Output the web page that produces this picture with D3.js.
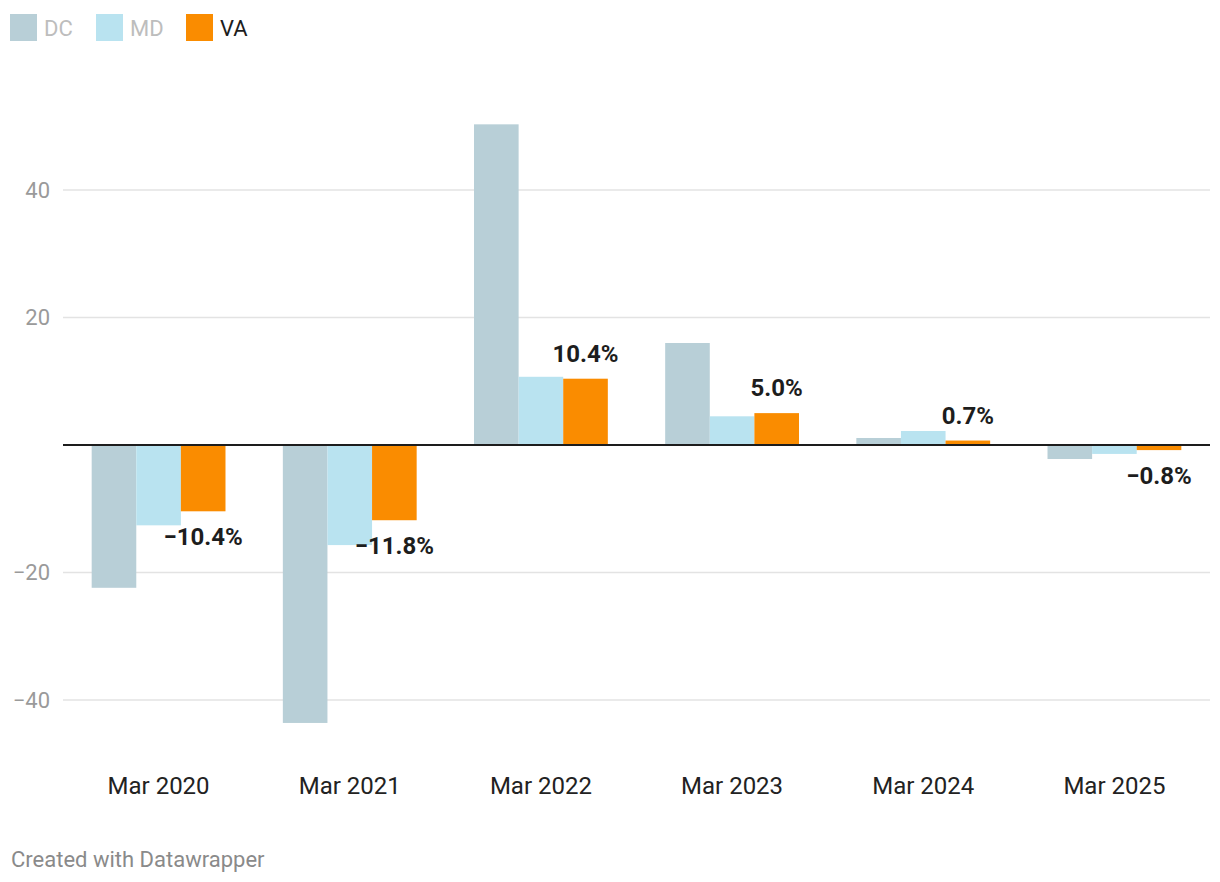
<!DOCTYPE html>
<html>
<head>
<meta charset="utf-8">
<script src="https://cdn.jsdelivr.net/npm/d3@7"></script>
<style>
  body { margin: 0; background: #fff; font-family: Roboto, sans-serif; }
</style>
</head>
<body>
<div id="chart"></div>
<script>
// Data
const periods = ["Mar 2020", "Mar 2021", "Mar 2022", "Mar 2023", "Mar 2024", "Mar 2025"];
const seriesNames = ["DC", "MD", "VA"];
const dcValues = [-22.4, -43.6, 50.3, 16.0, 1.1, -2.2];
const mdValues = [-12.6, -15.7, 10.7, 4.5, 2.2, -1.4];
const vaValues = [-10.4, -11.8, 10.4, 5.0, 0.7, -0.8];
const yTicks = [-40, -20, 20, 40];

const seriesValues = { DC: dcValues, MD: mdValues, VA: vaValues };
const colors = d3.scaleOrdinal()
  .domain(seriesNames)
  .range(["#b8cfd7", "#b9e3f0", "#fa8c00"]);

const width = 1220, height = 882;
const margins = {left: 63, right: 10};

const svg = d3.select("#chart")
  .append("svg")
  .attr("width", width)
  .attr("height", height);

/* Scales */
const x0 = d3.scaleBand()
  .domain(periods)
  .range([margins.left, width - margins.right])
  .paddingInner(0.3)
  .paddingOuter(0.15);

const x1 = d3.scaleBand()
  .domain(seriesNames)
  .range([0, x0.bandwidth()]);

const y = d3.scaleLinear()
  .domain([-40, 40])
  .range([700, 190]);

/* Gridlines and y labels */
const grid = svg.append("g");
grid.selectAll("line")
  .data(yTicks)
  .join("line")
    .attr("x1", margins.left)
    .attr("x2", width - margins.right)
    .attr("y1", d => y(d))
    .attr("y2", d => y(d))
    .style("stroke", "#e3e3e3")
    .style("stroke-width", 1.5);

grid.selectAll("text")
  .data(yTicks)
  .join("text")
    .attr("x", 50)
    .attr("y", d => y(d))
    .attr("dy", "0.35em")
    .style("text-anchor", "end")
    .style("font-size", "22px")
    .style("fill", "#9a9a9a")
    .text(d => d < 0 ? "\u2212" + Math.abs(d) : d);

/* Bars */
const rows = periods.map((p, i) => ({
  period: p,
  values: seriesNames.map(s => ({ series: s, value: seriesValues[s][i] }))
}));

svg.append("g")
  .selectAll("g")
  .data(rows)
  .join("g")
    .attr("transform", d => `translate(${x0(d.period)},0)`)
  .selectAll("rect")
  .data(d => d.values)
  .join("rect")
    .attr("x", d => x1(d.series))
    .attr("width", x1.bandwidth())
    .attr("y", d => y(Math.max(0, d.value)))
    .attr("height", d => Math.abs(y(d.value) - y(0)))
    .style("fill", d => colors(d.series));

/* Zero line */
svg.append("line")
  .attr("x1", margins.left)
  .attr("x2", width - margins.right)
  .attr("y1", y(0))
  .attr("y2", y(0))
  .style("stroke", "#1d1d1d")
  .style("stroke-width", 2);

/* VA value labels */
const fmt = v => (v < 0 ? "\u2212" : "") + Math.abs(v).toFixed(1) + "%";
svg.append("g")
  .selectAll("text")
  .data(periods.map((p, i) => ({ period: p, value: vaValues[i] })))
  .join("text")
    .attr("x", d => x0(d.period) + x1("VA") + x1.bandwidth() / 2)
    .attr("y", d => d.value >= 0 ? y(d.value) - 17 : y(d.value) + 34)
    .style("text-anchor", "middle")
    .style("font-size", "24px")
    .style("font-weight", "bold")
    .style("fill", "#1d1d1d")
    .text(d => fmt(d.value));

/* X labels */
svg.append("g")
  .selectAll("text")
  .data(periods)
  .join("text")
    .attr("x", d => x0(d) + x0.bandwidth() / 2)
    .attr("y", 794)
    .style("text-anchor", "middle")
    .style("font-size", "24px")
    .style("fill", "#222")
    .text(d => d);

/* Legend */
const legendX = [10, 96, 186];
const legend = svg.append("g")
  .selectAll("g")
  .data(seriesNames)
  .join("g")
    .attr("transform", (d, i) => `translate(${legendX[i]},14)`);

legend.append("rect")
  .attr("width", 27)
  .attr("height", 27)
  .style("fill", d => colors(d));

legend.append("text")
  .attr("x", 34)
  .attr("y", 22)
  .style("font-size", "22px")
  .style("fill", d => d === "VA" ? "#1d1d1d" : "#bdbdbd")
  .text(d => d);

/* Footer */
svg.append("text")
  .attr("x", 11)
  .attr("y", 867)
  .style("font-size", "22px")
  .style("fill", "#8a8a8a")
  .text("Created with Datawrapper");
</script>
</body>
</html>
